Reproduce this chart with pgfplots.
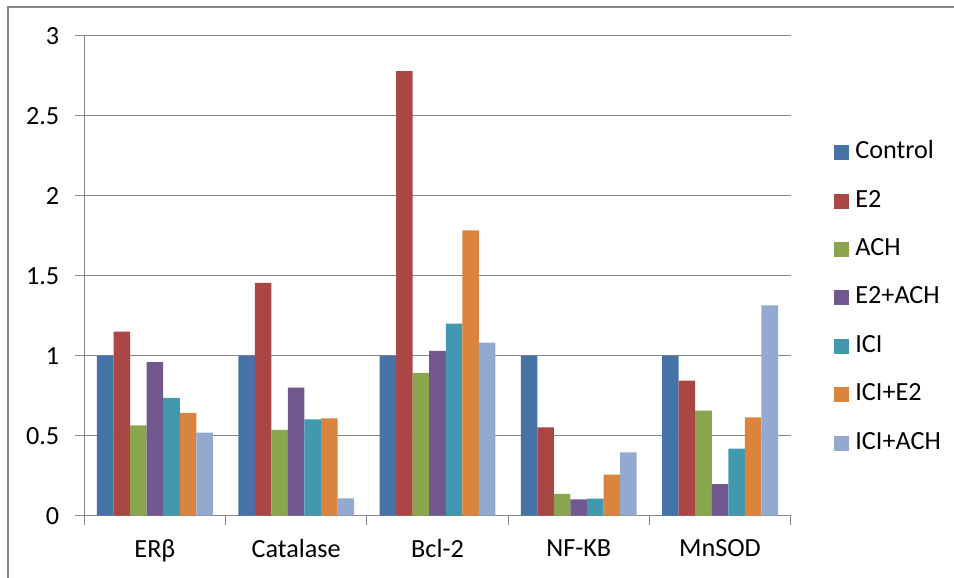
\documentclass[border=0pt]{standalone}
\usepackage{pgfplots}
\pgfplotsset{compat=1.18}
\usepackage{pgfplotstable}
\usepackage{fontspec}
\setmainfont{Carlito}
\newcommand\cf{\fontsize{13.1pt}{15.5pt}\selectfont}
\definecolor{cA}{HTML}{4572A7}
\definecolor{cB}{HTML}{AA4643}
\definecolor{cC}{HTML}{89A54E}
\definecolor{cD}{HTML}{71588F}
\definecolor{cE}{HTML}{4198AF}
\definecolor{cF}{HTML}{DB843D}
\definecolor{cG}{HTML}{93A9CF}
\definecolor{gridc}{HTML}{868686}
\pgfplotstableread{
x Control E2 ACH E2ACH ICI ICIE2 ICIACH
0 1.0 1.15 0.565 0.96 0.736 0.642 0.519
1 1.0 1.455 0.536 0.80 0.602 0.609 0.109
2 1.0 2.778 0.892 1.03 1.20 1.784 1.081
3 1.0 0.552 0.136 0.102 0.106 0.256 0.396
4 1.0 0.844 0.656 0.198 0.419 0.615 1.315
}\data
\begin{document}
\begin{tikzpicture}
\path[use as bounding box] (0,0) rectangle (477pt,-289pt);
\draw[gridc, line width=0.6pt] (4pt,-289pt) -- (4pt,-3.5pt) -- (477pt,-3.5pt);
\begin{axis}[
  at={(42.15pt,-257.85pt)}, anchor=south west,
  scale only axis, width=353.2pt, height=240pt,
  xmin=-0.5, xmax=4.5, ymin=0, ymax=3,
  ybar=0pt, bar width=8.28pt,
  axis x line=bottom, axis y line=left,
  axis line style={-, draw=gridc, line width=0.6pt},
  ytick={0,0.5,1,1.5,2,2.5,3},
  ymajorgrids, grid style={gridc, line width=0.6pt},
  tick align=outside, major tick length=4.5pt,
  tick style={gridc, line width=0.6pt},
  xtick={-0.5,0.5,1.5,2.5,3.5,4.5}, xticklabels={},
  extra x ticks={0,1,2,3,4},
  extra x tick labels={ERβ,Catalase,Bcl-2,NF-KB,MnSOD},
  extra x tick style={tick style={draw=none}},
  xticklabel style={font=\cf, yshift=-4pt},
  yticklabel style={font=\cf, /pgf/number format/assume math mode=true, /pgf/number format/fixed, xshift=-4.5pt},
  legend style={draw=none, fill=none, at={(1.0613,0.782)}, anchor=north west,
    font=\cf, row sep=12.2pt, inner sep=0pt,
    nodes={inner sep=0pt, inner xsep=3pt, text height=9pt, text depth=3pt}},
  legend cell align=left,
  legend image code/.code={\fill[#1] (0pt,-3.75pt) rectangle (7.5pt,3.75pt);},
  every axis plot/.append style={draw=none},
]
\addplot[fill=cA] table[x=x,y=Control]{\data};
\addplot[fill=cB] table[x=x,y=E2]{\data};
\addplot[fill=cC] table[x=x,y=ACH]{\data};
\addplot[fill=cD] table[x=x,y=E2ACH]{\data};
\addplot[fill=cE] table[x=x,y=ICI]{\data};
\addplot[fill=cF] table[x=x,y=ICIE2]{\data};
\addplot[fill=cG] table[x=x,y=ICIACH]{\data};
\legend{Control,E2,ACH,E2+ACH,ICI,ICI+E2,ICI+ACH}
\end{axis}
\end{tikzpicture}
\end{document}
